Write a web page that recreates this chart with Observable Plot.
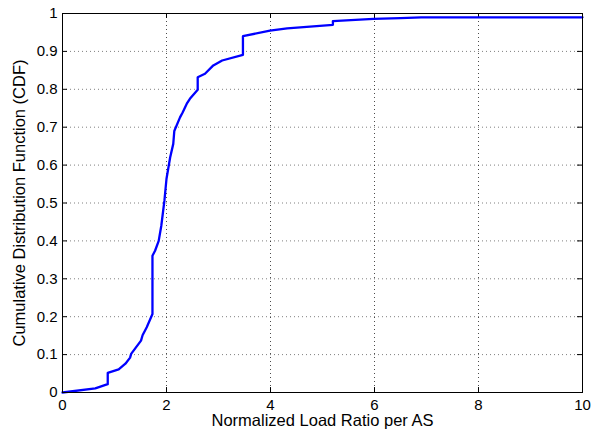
<!DOCTYPE html>
<html>
<head>
<meta charset="utf-8">
<script src="https://cdn.jsdelivr.net/npm/d3@7"></script>
<script src="https://cdn.jsdelivr.net/npm/@observablehq/plot@0.6"></script>
<style>
  html, body { margin: 0; padding: 0; background: white; }
</style>
</head>
<body>
<div id="chart"></div>
<script>
const xTicks = [0, 2, 4, 6, 8, 10];
const yTicks = [0, 0.1, 0.2, 0.3, 0.4, 0.5, 0.6, 0.7, 0.8, 0.9, 1];
const xLabel = "Normalized Load Ratio per AS";
const yLabel = "Cumulative Distribution Function (CDF)";

const loadRatio = [0, 0.63, 0.87, 0.87, 1.08, 1.21, 1.30, 1.32, 1.51, 1.54, 1.62, 1.73, 1.73, 1.78, 1.85, 1.90, 1.96, 2.00, 2.07, 2.13, 2.15, 2.26, 2.31, 2.39, 2.45, 2.60, 2.60, 2.74, 2.90, 3.07, 3.47, 3.47, 3.99, 4.32, 5.20, 5.20, 5.98, 6.5, 6.9, 10];
const cdf = [0, 0.011, 0.022, 0.052, 0.061, 0.076, 0.092, 0.102, 0.137, 0.151, 0.172, 0.207, 0.361, 0.374, 0.40, 0.44, 0.506, 0.564, 0.62, 0.656, 0.69, 0.726, 0.739, 0.762, 0.775, 0.799, 0.832, 0.841, 0.863, 0.876, 0.891, 0.94, 0.955, 0.961, 0.97, 0.98, 0.986, 0.988, 0.99, 0.99];

const data = loadRatio.map((x, i) => ({x, y: cdf[i]}));

const tickLenY = 0.013; // inward tick length in y units
const tickLenX = 0.096; // inward tick length in x units

const chart = Plot.plot({
  width: 594,
  height: 432,
  marginLeft: 62,
  marginRight: 12,
  marginTop: 13,
  marginBottom: 40,
  style: {fontFamily: "'Liberation Sans', Arial, Helvetica, sans-serif", fontSize: "15px", color: "black", background: "white"},
  x: {domain: [0, 10]},
  y: {domain: [0, 1]},
  marks: [
    Plot.gridX(xTicks, {stroke: "#000", strokeOpacity: 0.7, strokeDasharray: "1,3"}),
    Plot.gridY(yTicks, {stroke: "#000", strokeOpacity: 0.5, strokeDasharray: "1,3"}),
    Plot.ruleX(xTicks, {x: d => d, y1: 0, y2: tickLenY, stroke: "black"}),
    Plot.ruleX(xTicks, {x: d => d, y1: 1 - tickLenY, y2: 1, stroke: "black"}),
    Plot.ruleY(yTicks, {y: d => d, x1: 0, x2: tickLenX, stroke: "black"}),
    Plot.ruleY(yTicks, {y: d => d, x1: 10 - tickLenX, x2: 10, stroke: "black"}),
    Plot.line(data, {x: "x", y: "y", stroke: "#0000ff", strokeWidth: 2.3}),
    Plot.frame({stroke: "black"}),
    Plot.axisX(xTicks, {anchor: "bottom", tickSize: 0, tickPadding: 7, label: null, fontSize: 15}),
    Plot.axisY(yTicks, {anchor: "left", tickSize: 0, tickPadding: 5, label: null, fontSize: 15, tickFormat: d => String(d)}),
    Plot.text([xLabel], {frameAnchor: "bottom", textAnchor: "middle", dy: 28.5, fontSize: 16.5, lineAnchor: "middle", text: d => d}),
    Plot.text([yLabel], {frameAnchor: "left", textAnchor: "middle", dx: -43, rotate: -90, fontSize: 16.5, lineAnchor: "middle", text: d => d})
  ]
});
document.getElementById("chart").appendChild(chart);
</script>
</body>
</html>
